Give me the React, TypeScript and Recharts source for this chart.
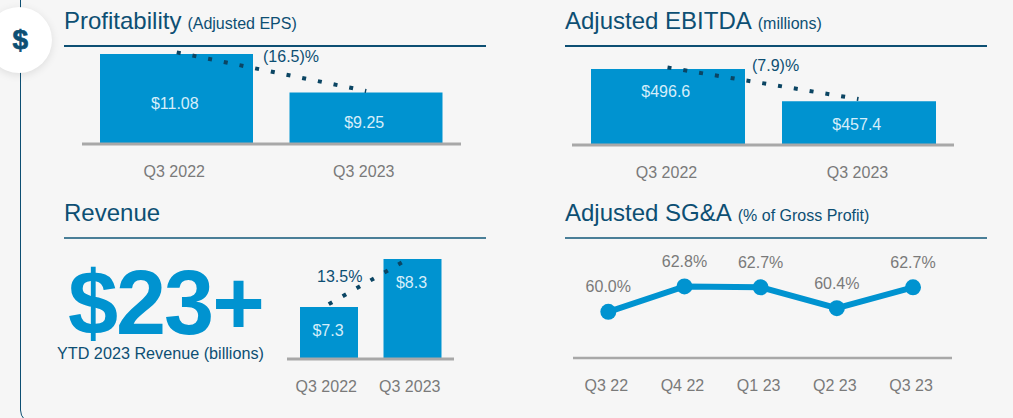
import React from "react";
import {
  BarChart,
  Bar,
  ComposedChart,
  Line,
  LineChart,
  XAxis,
  YAxis,
  LabelList,
} from "recharts";

const quarters = ["Q3 2022", "Q3 2023"];
const epsValues = [11.08, 9.25];
const epsTrend = [11.16, 9.32];
const ebitdaValues = [496.6, 457.4];
const ebitdaTrend = [498.5, 460.2];
const revenueValues = [7.3, 8.3];
const revenueTrend = [7.36, 8.35];
const sgaQuarters = ["Q3 22", "Q4 22", "Q1 23", "Q2 23", "Q3 23"];
const sgaValues = [60.0, 62.8, 62.7, 60.4, 62.7];

const BLUE = "#0093d0";
const NAVY = "#0d4f73";
const GRAY_TEXT = "#7a7a7a";
const AXIS_GRAY = "#a8a8a8";
const FONT = "'Liberation Sans', Arial, sans-serif";

const rows = (values: number[], trend: number[]) =>
  quarters.map((name, i) => ({ name, value: values[i], trend: trend[i] }));

const abs = (left: number, top: number): React.CSSProperties => ({
  position: "absolute",
  left,
  top,
  whiteSpace: "nowrap",
  fontFamily: FONT,
});

const Heading = ({
  x,
  y,
  title,
  sub,
  ruleColor = NAVY,
  ruleHeight = 1.5,
}: {
  x: number;
  y: number;
  title: string;
  sub?: string;
  ruleColor?: string;
  ruleHeight?: number;
}) => (
  <>
    <div style={{ ...abs(x, y), fontSize: 24, lineHeight: "28px", color: NAVY }}>
      {title}
      {sub && <span style={{ fontSize: 16, marginLeft: 6 }}>{sub}</span>}
    </div>
    <div style={{ position: "absolute", left: x, top: y + 38, width: 422, height: ruleHeight, background: ruleColor }} />
  </>
);

interface TrendBarsProps {
  left: number;
  top: number;
  width: number;
  height: number;
  data: { name: string; value: number; trend: number }[];
  domain: [number, number];
  barSize: number;
  tickDx: number;
  dash: string;
  format: (v: number) => string;
  labelPosition: "center" | "insideTop";
  labelOffset: number;
  labelDx: number;
  labelDy: number;
}

const TrendBars = (p: TrendBarsProps) => (
  <div style={{ position: "absolute", left: p.left, top: p.top }}>
    <ComposedChart
      width={p.width}
      height={p.height}
      data={p.data}
      margin={{ top: 0, right: 0, bottom: 0, left: 0 }}
    >
      <XAxis
        dataKey="name"
        height={50}
        tickLine={false}
        axisLine={{ stroke: AXIS_GRAY, strokeWidth: 3 }}
        tick={{ fill: GRAY_TEXT, fontSize: 16, fontFamily: FONT, dx: p.tickDx, dy: 14 }}
      />
      <YAxis hide domain={p.domain} allowDataOverflow />
      <Bar dataKey="value" fill={BLUE} barSize={p.barSize} isAnimationActive={false}>
        <LabelList
          dataKey="value"
          position={p.labelPosition}
          offset={p.labelOffset}
          dx={p.labelDx}
          dy={p.labelDy}
          formatter={(v: any) => p.format(Number(v))}
          fill="#d6eefa"
          fontSize={16}
          fontFamily={FONT}
        />
      </Bar>
      <Line
        dataKey="trend"
        stroke="#0b4563"
        strokeWidth={4}
        strokeDasharray={p.dash}
        dot={false}
        activeDot={false}
        isAnimationActive={false}
      />
    </ComposedChart>
  </div>
);

const App = () => {
  const sgaData = sgaQuarters.map((name, i) => ({ name, value: sgaValues[i] }));
  return (
    <div
      style={{
        position: "absolute",
        left: 0,
        top: 0,
        width: 1013,
        height: 418,
        overflow: "hidden",
        background: "#f6f6f6",
      }}
    >
      <div
        style={{
          position: "absolute",
          left: 20,
          top: -20,
          width: 1100,
          height: 444,
          border: `1.5px solid ${NAVY}`,
          borderRadius: 14,
          boxSizing: "border-box",
        }}
      />
      <div
        style={{
          position: "absolute",
          left: -14,
          top: 7,
          width: 66,
          height: 66,
          borderRadius: "50%",
          background: "#fff",
          boxShadow: "0 2px 8px rgba(0,0,0,0.1)",
        }}
      />
      <div
        style={{
          ...abs(12.5, 24),
          fontWeight: 700,
          fontSize: 28,
          lineHeight: "32px",
          color: NAVY,
          WebkitTextStroke: `0.7px ${NAVY}`,
        }}
      >
        $
      </div>

      <Heading x={64} y={7} title="Profitability" sub="(Adjusted EPS)" />
      <Heading x={565} y={7} title="Adjusted EBITDA" sub="(millions)" />
      <Heading x={64} y={199} title="Revenue" ruleColor="#4a7f98" ruleHeight={2} />
      <Heading x={565} y={199} title="Adjusted SG&A" sub="(% of Gross Profit)" ruleColor="#4a7f98" ruleHeight={2} />

      <TrendBars
        left={82}
        top={44}
        width={379}
        height={150}
        data={rows(epsValues, epsTrend)}
        domain={[6.79, 11.56]}
        barSize={153}
        tickDx={-2.5}
        dash="4 12"
        format={(v) => `$${v.toFixed(2)}`}
        labelPosition="center"
        labelOffset={0}
        labelDx={-1.75}
        labelDy={4}
      />
      <TrendBars
        left={572}
        top={45}
        width={382}
        height={150}
        data={rows(ebitdaValues, ebitdaTrend)}
        domain={[404.4, 525.8]}
        barSize={154}
        tickDx={-1}
        dash="4 12"
        format={(v) => `$${v.toFixed(1)}`}
        labelPosition="insideTop"
        labelOffset={17}
        labelDx={-2.25}
        labelDy={0}
      />
      <TrendBars
        left={287}
        top={241}
        width={167}
        height={168}
        data={rows(revenueValues, revenueTrend)}
        domain={[6.217, 8.675]}
        barSize={58}
        tickDx={-2.5}
        dash="4 12 4 12 4 12 4 12 4 12 4 200"
        format={(v) => `$${v.toFixed(1)}`}
        labelPosition="insideTop"
        labelOffset={18}
        labelDx={-1}
        labelDy={0}
      />

      <div style={{ ...abs(263, 48), fontSize: 16, lineHeight: "18px", color: NAVY }}>(16.5)%</div>
      <div style={{ ...abs(752, 57), fontSize: 16, lineHeight: "18px", color: NAVY }}>(7.9)%</div>
      <div style={{ ...abs(317, 268), fontSize: 16, lineHeight: "18px", color: NAVY }}>13.5%</div>

      <div
        style={{
          ...abs(68, 251),
          fontSize: 90,
          lineHeight: "104px",
          fontWeight: 700,
          letterSpacing: -2,
          color: BLUE,
        }}
      >
        $23+
      </div>
      <div style={{ ...abs(57, 344), fontSize: 16.2, lineHeight: "18px", color: NAVY }}>
        YTD 2023 Revenue (billions)
      </div>

      <div style={{ position: "absolute", left: 572.7, top: 250 }}>
        <LineChart
          width={379}
          height={158}
          data={sgaData}
          margin={{ top: 0, right: 0, bottom: 0, left: 0 }}
        >
          <XAxis
            dataKey="name"
            height={50}
            padding={{ left: 35.3, right: 39 }}
            tickLine={false}
            axisLine={{ stroke: AXIS_GRAY, strokeWidth: 2.5 }}
            tick={{ fill: GRAY_TEXT, fontSize: 16, fontFamily: FONT, dx: -2, dy: 14 }}
          />
          <YAxis hide domain={[54.91, 66.82]} allowDataOverflow />
          <Line
            dataKey="value"
            stroke={BLUE}
            strokeWidth={6}
            dot={{ r: 8, fill: BLUE, stroke: "none" }}
            activeDot={false}
            isAnimationActive={false}
          >
            <LabelList
              dataKey="value"
              position="top"
              offset={19.5}
              formatter={(v: any) => `${Number(v).toFixed(1)}%`}
              fill={GRAY_TEXT}
              fontSize={16}
              fontFamily={FONT}
            />
          </Line>
        </LineChart>
      </div>
    </div>
  );
};

export default App;
